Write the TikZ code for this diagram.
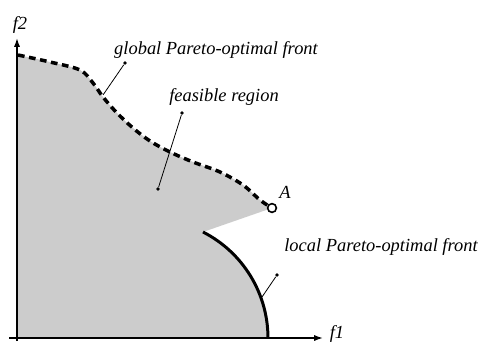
\documentclass[tikz,border=0pt]{standalone}
\usepackage{fontspec}
\setmainfont{Liberation Serif}
\usetikzlibrary{arrows.meta}
\definecolor{feasgray}{HTML}{CCCCCC}

\begin{document}
\begin{tikzpicture}[x=0.02cm, y=0.02cm, font=\fontsize{10.5}{12}\selectfont\itshape, >={Latex[length=5pt,width=3.5pt]},
    axis/.style={line width=0.9pt},
    leader/.style={line width=0.45pt},
    tipdot/.style={circle, fill, inner sep=0pt, minimum size=2.2pt}]
  \useasboundingbox (0,0) rectangle (482,342);
  % feasible region, in pixel units of the sketch
  \fill[feasgray] (17,4) -- (17,287) -- plot[smooth, tension=0.55] coordinates {(18,287) (50,280) (80,272) (93,259) (103,245) (117,229) (133,214) (150,201) (170,190) (193,180) (220,170) (243,157) (260,142) (272,134)}
    -- (203,110) arc[start angle=63, end angle=0, radius=119] -- cycle;
  % fronts
  \draw[line width=2pt, dash pattern=on 3.8pt off 2.6pt] plot[smooth, tension=0.55] coordinates {(18,287) (50,280) (80,272) (93,259) (103,245) (117,229) (133,214) (150,201) (170,190) (193,180) (220,170) (243,157) (260,142) (272,134)};
  \draw[line width=1.7pt] (203,110) arc[start angle=63, end angle=0, radius=119];
  \node[circle, draw, fill=white, line width=0.9pt, inner sep=0pt, minimum size=5pt] (ptA) at (272,134) {};
  \node (labA) at (285,150) {A};
  % axes
  \node (f2) at (20,317) {f2};
  \node (f1) at (337,8) {f1};
  \coordinate (ytop) at (17,304);
  \coordinate (xend) at (323,4);
  \draw[axis, ->] (17,1) -- (ytop);
  \draw[axis, ->] (9,4) -- (xend);
  % labels and their leaders
  \node (global) at (216,292) {global Pareto-optimal front};
  \node (feasible) at (224,245) {feasible region};
  \node (local) at (381,95) {local Pareto-optimal front};
  \node[tipdot] (gdot) at (125,279) {};
  \coordinate (gfoot) at (103,247);
  \draw[leader] (gfoot) -- (gdot);
  \node[tipdot] (fdot1) at (182,229) {};
  \node[tipdot] (fdot2) at (158,153) {};
  \draw[leader] (fdot1) -- (fdot2);
  \node[tipdot] (ldot) at (277,67) {};
  \coordinate (lfoot) at (262,45);
  \draw[leader] (lfoot) -- (ldot);
\end{tikzpicture}
\end{document}
